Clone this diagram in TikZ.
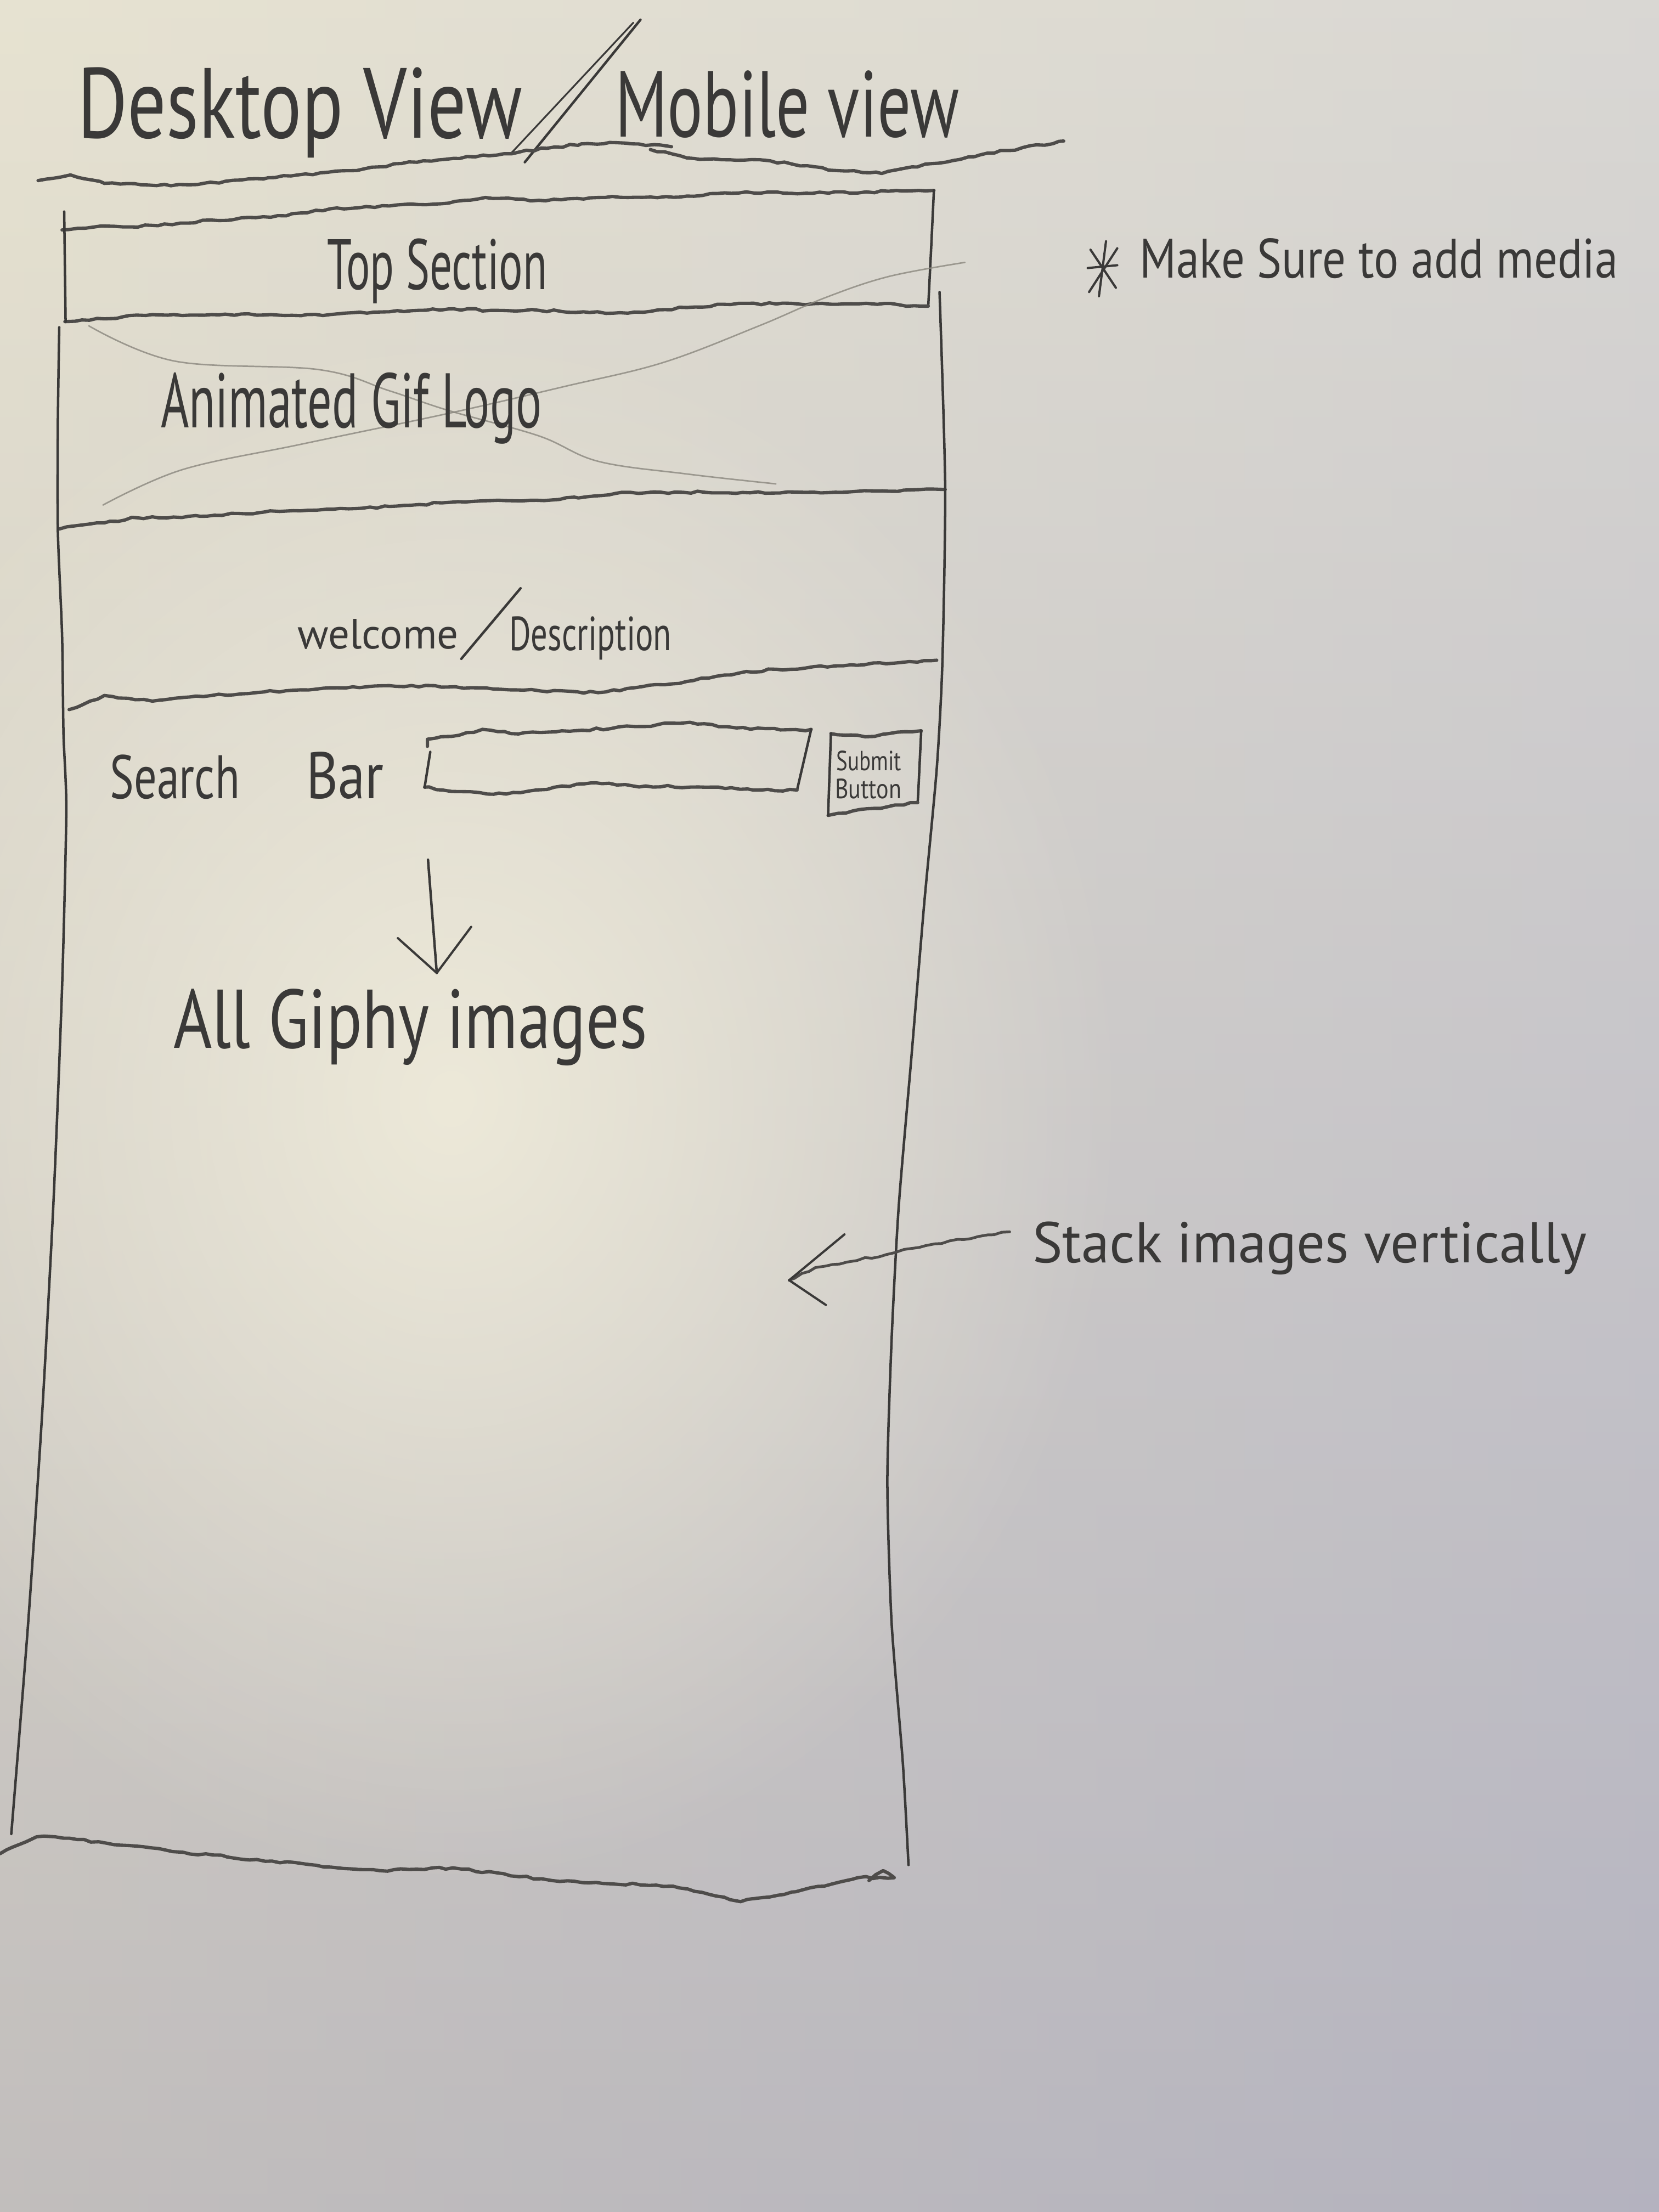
\documentclass[tikz,border=0pt]{standalone}
\usepackage{fontspec}
\setsansfont{PT Sans}
\usepackage{graphicx}
\usetikzlibrary{decorations.pathmorphing,fadings}

% paper and pencil tones
\definecolor{paperTop}{RGB}{226,223,210}
\definecolor{paperMid}{RGB}{212,210,208}
\definecolor{paperBot}{RGB}{164,162,176}
\definecolor{paperWarm}{RGB}{238,232,208}
\definecolor{paperCool}{RGB}{204,204,214}
\definecolor{paperGlow}{RGB}{242,238,220}
\definecolor{pencil}{RGB}{58,57,56}
\definecolor{lead}{RGB}{78,76,74}
\definecolor{faintlead}{RGB}{138,135,126}

% soft radial glow
\tikzfading[name=glowfade, inner color=transparent!0, outer color=transparent!100]

% one drawing unit is 0.02cm
\newlength{\pxu}\setlength{\pxu}{0.02cm}
\newcommand{\hand}[3]{\resizebox{#1\pxu}{#2\pxu}{\sffamily #3}}

\tikzset{
  hw/.style={inner sep=0pt, outer sep=0pt, anchor=base west, text=pencil},
  side/.style={draw=pencil, line width=1.0pt, line cap=round, line join=round},
  rough/.style={draw=lead, line width=1.35pt, line cap=round, line join=round,
    decorate, decoration={random steps, segment length=3pt, amplitude=0.45pt}},
  faint/.style={draw=faintlead, line width=0.6pt, line cap=round, opacity=0.8},
  tip/.style={draw=pencil, line width=0.9pt, line cap=round, line join=round},
}

\begin{document}
\pgfmathsetseed{11}
\begin{tikzpicture}[x=0.02cm, y=-0.02cm]
\useasboundingbox (0,0) rectangle (1176,1568);

% sheet of paper under uneven light
\shade[top color=paperTop, middle color=paperMid, bottom color=paperBot] (0,0) rectangle (1176,1568);
\shade[left color=paperWarm, right color=paperCool, opacity=0.4] (0,0) rectangle (1176,1568);
\fill[paperGlow, path fading=glowfade, opacity=0.85] (320,780) ellipse (480 and 560);

% heading
\node[hw] (desk) at (55,98) {\hand{315}{50}{Desktop View}};
\node[hw] (mob) at (436,97) {\hand{244}{47}{Mobile view}};
\draw[side] (372,115) -- (454,14);
\draw[side, line width=0.7pt] (362,109) -- (449,16);
\draw[rough] (27,128) -- (50,124) -- (74,130) -- (100,131) -- (134,131) -- (190,126)
  -- (248,121) -- (300,114) -- (357,109) -- (412,102) -- (432,101) -- (476,104);
\draw[rough] (461,106) -- (496,113) -- (546,114) -- (595,121) -- (625,123)
  -- (660,116) -- (694,110) -- (754,100);

% top section box
\draw[rough] (44,163) -- (66,161) -- (112,160) -- (150,156) -- (192,154) -- (213,151)
  -- (234,148) -- (276,146) -- (318,144) -- (344,140) -- (382,142) -- (424,140)
  -- (445,140) -- (487,139) -- (529,136) -- (571,137) -- (614,136) -- (662,135);
\draw[side] (662,135) -- (660,177) -- (658,217);
\draw[rough] (658,217) -- (614,215) -- (571,216) -- (529,215) -- (487,218) -- (445,222)
  -- (382,220) -- (348,220) -- (318,219) -- (276,221) -- (234,223) -- (192,223)
  -- (150,223) -- (108,223) -- (74,226) -- (46,228);
\draw[side] (45.5,150) -- (46.5,228);
\node[hw] (top) at (232,205) {\hand{156}{36}{Top Section}};

% animated logo panel, crossed out faintly
\draw[faint] plot[smooth, tension=0.6] coordinates {(63,231) (124,256) (226,262) (276,277)
  (318,291) (382,309) (424,327) (487,336) (550,343)};
\draw[faint] plot[smooth, tension=0.6] coordinates {(73,358) (129,333) (213,315) (318,293)
  (400,274) (470,257) (538,231) (585,211) (630,196) (684,186)};
\node[hw] (logo) at (114,303) {\hand{270}{39}{Animated Gif Logo}};
\draw[rough] (42,375) -- (97,367) -- (142,366) -- (187,363) -- (231,361) -- (276,359)
  -- (320,356) -- (343,355) -- (365,355) -- (410,353) -- (447,349) -- (500,349)
  -- (571,349) -- (620,348) -- (670,347);

% outer frame of the page
\draw[side] plot[smooth, tension=0.4] coordinates {(42,232) (41,300) (41,376) (44,450)
  (45,520) (47,575) (44,700) (38,850) (30,1000) (20,1150) (8,1300)};
\draw[side] plot[smooth, tension=0.4] coordinates {(666,207) (670,345) (668,470) (664,545)
  (655,642) (646,750) (637,856) (632,950) (629,1050) (632,1150) (640,1250) (644,1322)};
\draw[rough] (0,1314) -- (26,1302) -- (39,1302) -- (130,1313) -- (239,1324) -- (269,1326)
  -- (321,1324) -- (391,1333) -- (477,1337) -- (525,1348) -- (564,1341) -- (608,1331)
  -- (634,1331) -- (626,1326) -- (616,1333);

% welcome block
\node[hw] (welcome) at (211,460) {\hand{114}{21}{welcome}};
\node[hw] (descr) at (361,461) {\hand{115}{24}{Description}};
\draw[side] (369,417) -- (327,467);
\draw[rough] (49,503) -- (74,493) -- (91,495) -- (108,497) -- (150,493) -- (213,489)
  -- (276,486) -- (318,487) -- (361,489) -- (424,491) -- (487,483) -- (529,476)
  -- (592,472) -- (664,468);

% search row
\node[hw] (search) at (78,566) {\hand{92}{31}{Search}};
\node[hw] (bar) at (217,566) {\hand{55}{33}{Bar}};
\draw[rough] (303,529) -- (303,524) -- (320,522) -- (342,517) -- (362,520) -- (407,518)
  -- (450,515) -- (489,512) -- (522,516) -- (571,518) -- (575,517);
\draw[side] (575,517) -- (565,560);
\draw[rough] (565,560) -- (540,560) -- (500,558) -- (448,557) -- (419,555) -- (380,560)
  -- (350,563) -- (320,561) -- (301,558);
\draw[side] (301,558) -- (305,533);
\draw[rough] (589,520) -- (603,521) -- (620,522) -- (636,519) -- (653,518);
\draw[side] (653,518) -- (651,560) -- (650.5,569);
\draw[rough] (650.5,569) -- (620,573) -- (587,578);
\draw[side] (587,578) -- (589,520);
\node[hw] (submit) at (593,546) {\hand{46}{14}{Submit}};
\node[hw] (button) at (592,566) {\hand{47}{14}{Button}};

% results
\coordinate (dstart) at (303.4,609.4);
\coordinate (dtip) at (309.6,689.7);
\draw[side] (dstart) -- (dtip);
\draw[tip] (282,665) -- (dtip) -- (334,657);
\node[hw] (giphy) at (123,743) {\hand{336}{42}{All Giphy images}};

% side notes
\node[hw] (media) at (808,197) {\hand{339}{28}{Make Sure to add media}};
\draw[tip] (784,171) -- (779,210);
\draw[tip] (773,177) -- (791,204);
\draw[tip] (792,176) -- (772,207);
\draw[tip] (771,190) -- (792,188);

\node[hw] (stack) at (732,895) {\hand{393}{29}{Stack images vertically}};
\coordinate (sstart) at (715.7,873.2);
\coordinate (stip) at (559.4,907.5);
\draw[rough, line width=1.1pt] (sstart) -- (693.5,876.5) -- (656,883) -- (634,888)
  -- (600.5,894.6) -- (578,898.5) -- (stip);
\draw[tip] (598.6,875) -- (stip) -- (585.4,925);
\end{tikzpicture}
\end{document}
